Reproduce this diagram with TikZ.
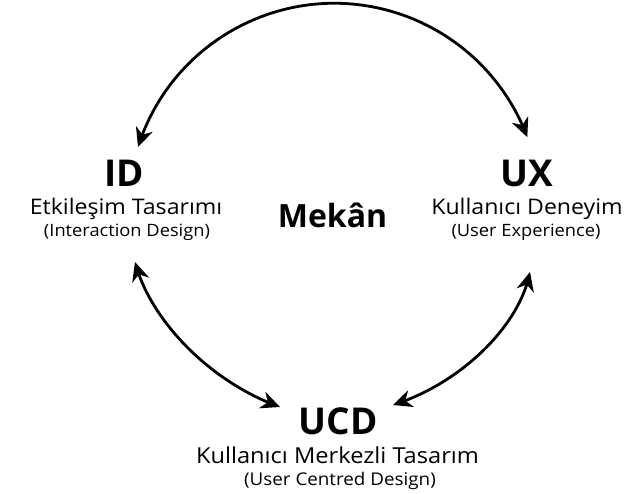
\documentclass[tikz,border=0pt]{standalone}
\usepackage{fontspec}
\setmainfont{Open Sans}
\usetikzlibrary{arrows.meta,bending}
% slightly widened running text
\newcommand{\widetext}[1]{\scalebox{1.075}[1]{#1}}
\begin{document}
\begin{tikzpicture}[x=1pt,y=-1pt,
  headtip/.tip={Stealth[length=19pt,width=17.5pt,inset=6pt]},
  link/.style={line width=2.8pt, black, headtip-headtip},
  acrotext/.style={anchor=base, inner sep=0pt, font=\fontsize{37}{40}\selectfont\bfseries},
  trtext/.style={anchor=base, inner sep=0pt, font=\fontsize{21.5}{24}\selectfont},
  entext/.style={anchor=base, inner sep=0pt, font=\fontsize{17}{20}\selectfont}]
  % canvas
  \fill[white] (0,0) rectangle (635,494);
  \useasboundingbox (0,0) rectangle (635,494);

  % Interaction Design
  \node[acrotext] (id)   at (124,187) {ID};
  \node[trtext]   (idtr) at (126,214.5) {\widetext{Etkileşim Tasarımı}};
  \node[entext]   (iden) at (127,237) {\widetext{(Interaction Design)}};

  % User Experience
  \node[acrotext] (ux)   at (527,187) {UX};
  \node[trtext]   (uxtr) at (527,214.5) {\widetext{Kullanıcı Deneyim}};
  \node[entext]   (uxen) at (526,237) {\widetext{(User Experience)}};

  % User Centred Design
  \node[acrotext] (ucd)   at (338,435) {UCD};
  \node[trtext, font=\fontsize{22}{24}\selectfont] (ucdtr) at (337.5,463) {\widetext{Kullanıcı Merkezli Tasarım}};
  \node[entext, font=\fontsize{17.5}{20}\selectfont] (ucden) at (340,485.5) {\widetext{(User Centred Design)}};

  % centre
  \node[acrotext, font=\fontsize{32}{34}\selectfont\bfseries] (mekan) at (332.5,228) {Mekân};

  % arrow end points
  \coordinate (idtop)    at (138,147);
  \coordinate (uxtop)    at (527,137);
  \coordinate (idlow)    at (135,262);
  \coordinate (uxlow)    at (530,272);
  \coordinate (ucdleft)  at (280,407);
  \coordinate (ucdright) at (393,405);

  % connectors
  \draw[link] (idtop) arc[start angle=197.6, end angle=339.5, radius=206];
  \draw[link] (idlow) .. controls (150,320) and (210,382) .. (ucdleft);
  \draw[link] (uxlow) .. controls (520,325) and (462,383) .. (ucdright);
\end{tikzpicture}
\end{document}
